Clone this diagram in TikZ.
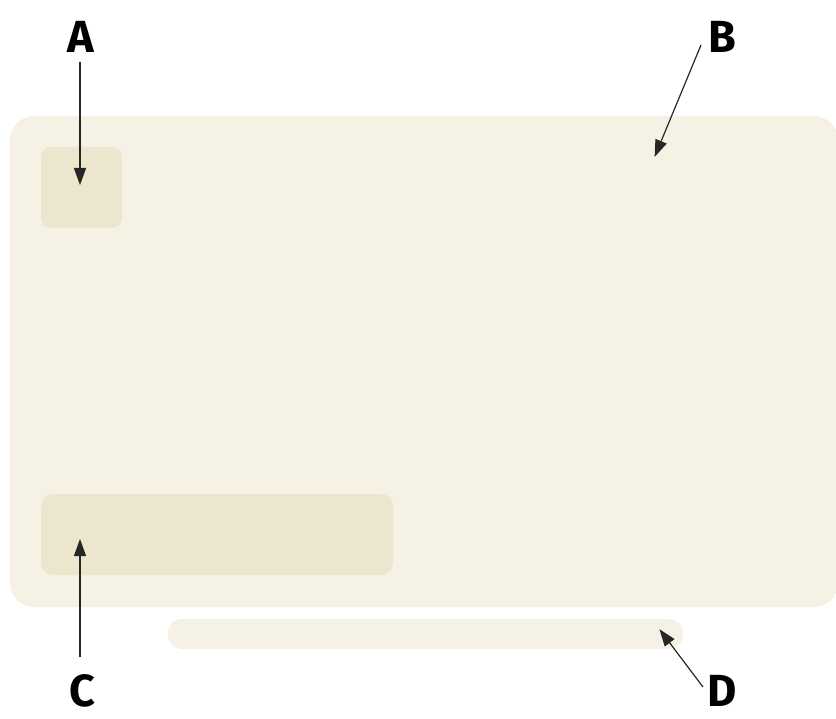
\documentclass[tikz,border=0pt]{standalone}
\usepackage{fontspec}
\setmainfont{Fira Sans}
\usetikzlibrary{arrows.meta}
\definecolor{panel}{HTML}{F5F1E5}
\definecolor{inner}{HTML}{EDE6CF}
\begin{document}
\begin{tikzpicture}[x=1pt,y=-1pt,
  lbl/.style={font=\fontsize{45}{45}\selectfont\bfseries, inner sep=0pt, anchor=center},
  ptr/.style={draw=black!85, line width=1.2pt, -{Triangle[length=17pt,width=12pt]}, shorten >=-1pt}]
\useasboundingbox (0,0) rectangle (836,719);
\fill[panel, rounded corners=24pt] (10,116) rectangle (838,607);
\fill[inner, rounded corners=10pt] (41,147) rectangle (122,228);
\fill[inner, rounded corners=12pt] (41,494) rectangle (393,575);
\fill[panel, rounded corners=14pt] (168,619) rectangle (683,649);
\node[lbl] (A) at (81,37) {A};
\node[lbl] (B) at (722,37) {B};
\node[lbl] (C) at (82,691) {C};
\node[lbl] (D) at (722,691) {D};
\coordinate (a) at (80,184);
\coordinate (b) at (655,156);
\coordinate (c) at (80,540);
\coordinate (d) at (660,630);
\draw[ptr] (80,62) -- (a);
\draw[ptr] (701,45) -- (b);
\draw[ptr] (80,657) -- (c);
\draw[ptr] (703,687) -- (d);
\end{tikzpicture}
\end{document}
